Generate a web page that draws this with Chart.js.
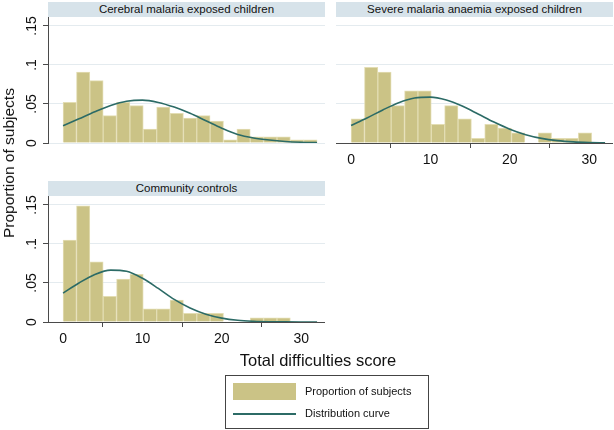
<!DOCTYPE html>
<html>
<head>
<meta charset="utf-8">
<script src="https://cdn.jsdelivr.net/npm/chart.js@4.4.1/dist/chart.umd.min.js"></script>
<style>
  body { margin: 0; background: #fff; font-family: "Liberation Sans", Arial, sans-serif; }
  #wrap { position: relative; width: 614px; height: 430px; overflow: hidden; }
  canvas { position: absolute; }
  .strip { position: absolute; height: 15px; background: #d7e3ea; color: #111; font-size: 11.5px; line-height: 15px; text-align: center; white-space: nowrap; }
  #ytitle { position: absolute; left: 9px; top: 163px; transform: translate(-50%, -50%) rotate(-90deg); font-size: 15.5px; color: #111; white-space: nowrap; }
  #xtitle { position: absolute; left: 318px; top: 360px; transform: translate(-50%, -50%); font-size: 16.5px; color: #111; white-space: nowrap; }
  #legend { position: absolute; left: 225px; top: 375px; width: 202px; height: 52px; border: 1px solid #444; font-size: 11px; color: #111; }
  #legend .sw { position: absolute; left: 7px; width: 63px; }
  #legend .tx { position: absolute; left: 79px; white-space: nowrap; }
</style>
</head>
<body>
<div id="wrap">
  <canvas id="p1" width="325" height="150" style="left:0;top:0"></canvas>
  <canvas id="p2" width="277" height="172" style="left:336px;top:0"></canvas>
  <canvas id="p3" width="325" height="356" style="left:0;top:0"></canvas>

  <div class="strip" style="left:48px;top:2px;width:277px">Cerebral malaria exposed children</div>
  <div class="strip" style="left:336px;top:2px;width:277px">Severe malaria anaemia exposed children</div>
  <div class="strip" style="left:48px;top:181px;width:277px">Community controls</div>

  <div id="ytitle">Proportion of subjects</div>
  <div id="xtitle">Total difficulties score</div>

  <div id="legend">
    <div class="sw" style="top:7px;height:17px;background:#cbc386"></div>
    <div class="tx" style="top:9px">Proportion of subjects</div>
    <div class="sw" style="top:37px;height:2px;background:#2c6b66"></div>
    <div class="tx" style="top:31px">Distribution curve</div>
  </div>
</div>

<script>
// bins of the histogram (score), same for all three groups
const binCenters = [0.84, 2.53, 4.21, 5.89, 7.58, 9.26, 10.95, 12.63, 14.32, 16.00,
                    17.68, 19.37, 21.05, 22.74, 24.42, 26.11, 27.79, 29.47, 31.16];

const cerebralProp = [0.052, 0.091, 0.080, 0.035, 0.052, 0.048, 0.018, 0.046, 0.038, 0.032,
                      0.035, 0.028, 0.004, 0.018, 0.008, 0.008, 0.008, 0.004, 0.004];
const anaemiaProp  = [0.031, 0.097, 0.091, 0.048, 0.067, 0.067, 0.024, 0.048, 0.031, 0.006,
                      0.024, 0.019, 0.013, 0, 0.013, 0.006, 0.006, 0.013, 0];
const controlsProp = [0.105, 0.149, 0.077, 0.033, 0.055, 0.061, 0.017, 0.017, 0.028, 0.011,
                      0.011, 0.011, 0, 0, 0.0055, 0.0055, 0.0055, 0, 0];

// distribution curve, read every 2 points of score
const curveX = [0, 2, 4, 6, 8, 10, 12, 14, 16, 18, 20, 22, 24, 26, 28, 30, 32];
const cerebralCurve = [0.022, 0.031, 0.040, 0.048, 0.0535, 0.055, 0.052, 0.046, 0.038, 0.0285,
                       0.019, 0.011, 0.0065, 0.0038, 0.002, 0.001, 0.0005];
const anaemiaCurve  = [0.0225, 0.032, 0.0424, 0.0516, 0.0576, 0.0588, 0.0551, 0.0473, 0.0372, 0.0268,
                       0.0177, 0.0107, 0.0059, 0.003, 0.0014, 0.0006, 0.0002];
const controlsCurve = [0.037, 0.050, 0.061, 0.0665, 0.065, 0.056, 0.043, 0.029, 0.018, 0.010,
                       0.005, 0.0022, 0.0009, 0.0003, 0.0001, 0, 0];

const xTickValues = [0, 10, 20, 30];
const yTickValues = [0, 0.05, 0.1, 0.15];
const yTickLabels = ['0', '.05', '.1', '.15'];

const FONT = '"Liberation Sans", Arial, sans-serif';
const axisColor = '#4a4a4a';
const gridColor = '#e4ebef';

// rotated y tick labels (Stata style)
const yLabelPlugin = {
    id: 'yLabels',
    afterDraw(chart, args, opts) {
        if (!opts.show) return;
        const { ctx, chartArea, scales } = chart;
        ctx.save();
        ctx.fillStyle = '#111';
        ctx.font = '14px ' + FONT;
        ctx.textAlign = 'center';
        ctx.textBaseline = 'middle';
        yTickValues.forEach((v, i) => {
            const y = scales.y.getPixelForValue(v);
            ctx.save();
            ctx.translate(chartArea.left - 16, y);
            ctx.rotate(-Math.PI / 2);
            ctx.fillText(yTickLabels[i], 0, 0);
            ctx.restore();
        });
        ctx.restore();
    }
};

function makePanel(id, props, curve, opt) {
    const ctx = document.getElementById(id).getContext('2d');
    return new Chart(ctx, {
        type: 'bar',
        data: {
            datasets: [{
                type: 'line',
                data: curveX.map((x, i) => ({ x: x, y: curve[i] })),
                borderColor: '#2c6b66',
                borderWidth: 1.6,
                pointRadius: 0,
                cubicInterpolationMode: 'monotone',
                fill: false,
                order: 1
            }, {
                type: 'bar',
                data: binCenters.map((x, i) => ({ x: x, y: props[i] })),
                backgroundColor: '#cbc386',
                borderColor: '#e3ddb3',
                borderWidth: 1,
                barPercentage: 1,
                categoryPercentage: 1,
                order: 2
            }]
        },
        options: {
            responsive: false,
            animation: false,
            layout: { padding: { top: opt.top, bottom: opt.bottom || 0, left: 0, right: 0 } },
            plugins: {
                legend: { display: false },
                tooltip: { enabled: false },
                yLabels: { show: opt.yAxis }
            },
            scales: {
                x: {
                    type: 'linear',
                    min: -1.9,
                    max: 33,
                    offset: false,
                    display: opt.xAxis,
                    afterBuildTicks: s => { s.ticks = xTickValues.map(v => ({ value: v })); },
                    afterFit: s => { s.height = opt.xHeight || 0; },
                    grid: { drawOnChartArea: false, drawTicks: true, tickLength: 5, color: axisColor },
                    border: { display: true, color: axisColor, width: 1 },
                    ticks: { color: '#111', font: { size: 14, family: FONT }, padding: 4, maxRotation: 0 }
                },
                y: {
                    min: 0,
                    max: 0.1615,
                    afterBuildTicks: s => { s.ticks = yTickValues.map(v => ({ value: v })); },
                    afterFit: s => { s.width = opt.yAxis ? 48 : 0; },
                    ticks: { display: false },
                    grid: { color: gridColor, drawTicks: opt.yAxis, tickLength: 5, tickColor: axisColor },
                    border: { display: opt.yAxis, color: axisColor, width: 1 }
                }
            }
        },
        plugins: [yLabelPlugin]
    });
}

document.addEventListener('DOMContentLoaded', () => {
    makePanel('p1', cerebralProp, cerebralCurve, { top: 17, bottom: 7, yAxis: true, xAxis: false });
    makePanel('p2', anaemiaProp, anaemiaCurve, { top: 17, yAxis: false, xAxis: true, xHeight: 29 });
    makePanel('p3', controlsProp, controlsCurve, { top: 196, yAxis: true, xAxis: true, xHeight: 34 });
});
</script>
</body>
</html>
